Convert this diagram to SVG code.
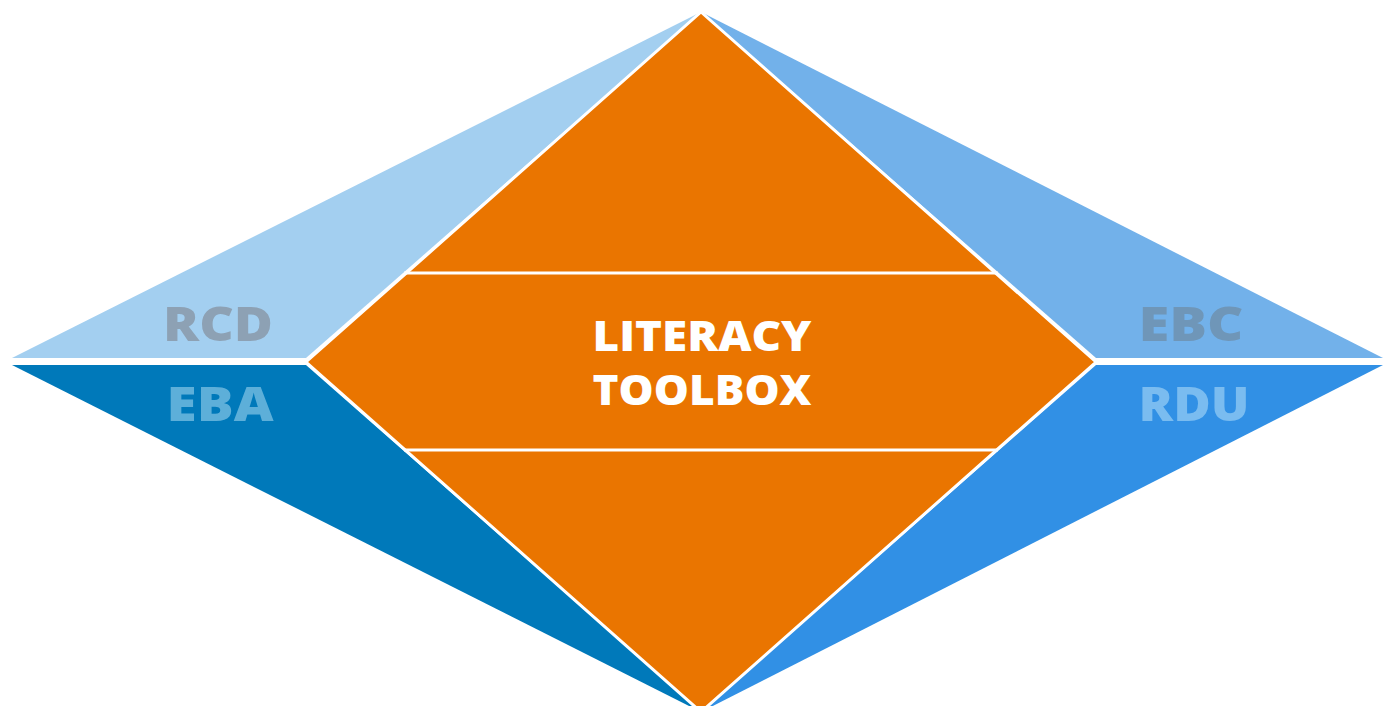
<svg xmlns="http://www.w3.org/2000/svg" width="1383" height="706" viewBox="0 0 1383 706">
<style>
.lbl{font-family:"Open Sans","Liberation Sans",sans-serif;font-weight:800;font-size:47px;text-anchor:middle}
.ctr{font-family:"Open Sans","Liberation Sans",sans-serif;font-weight:800;font-size:42px;fill:#fff;text-anchor:middle}
.div{stroke:#fff;stroke-width:3}
</style>
<rect width="1383" height="706" fill="#fff"/>
<g id="rcd">
<polygon points="701,12 12,358 306,358" fill="#A3CFF0"/>
<text class="lbl" x="218" y="341" fill="#8DA1B4" textLength="110" lengthAdjust="spacingAndGlyphs">RCD</text>
</g>
<g id="eba">
<polygon points="701,712 12,365 306,365" fill="#0079BA"/>
<text class="lbl" x="220" y="421" fill="#5DAFD9" textLength="107" lengthAdjust="spacingAndGlyphs">EBA</text>
</g>
<g id="ebc">
<polygon points="701,12 1383,358 1096,358" fill="#72B1EA"/>
<text class="lbl" x="1191" y="341" fill="#6F96B8" textLength="105" lengthAdjust="spacingAndGlyphs">EBC</text>
</g>
<g id="rdu">
<polygon points="701,712 1383,365 1096,365" fill="#3190E5"/>
<text class="lbl" x="1194" y="421" fill="#7ABCF0" textLength="111" lengthAdjust="spacingAndGlyphs">RDU</text>
</g>
<g id="toolbox">
<polygon points="701,12 1096,362 701,712 306,362" fill="#EA7500" stroke="#fff" stroke-width="3" stroke-linejoin="miter"/>
<line class="div" x1="404" y1="273" x2="998" y2="273"/>
<line class="div" x1="404" y1="450" x2="998" y2="450"/>
<text class="ctr" x="702" y="351" textLength="219" lengthAdjust="spacingAndGlyphs">LITERACY</text>
<text class="ctr" x="702" y="405" textLength="219" lengthAdjust="spacingAndGlyphs">TOOLBOX</text>
</g>
<g id="connectors"></g>
</svg>
